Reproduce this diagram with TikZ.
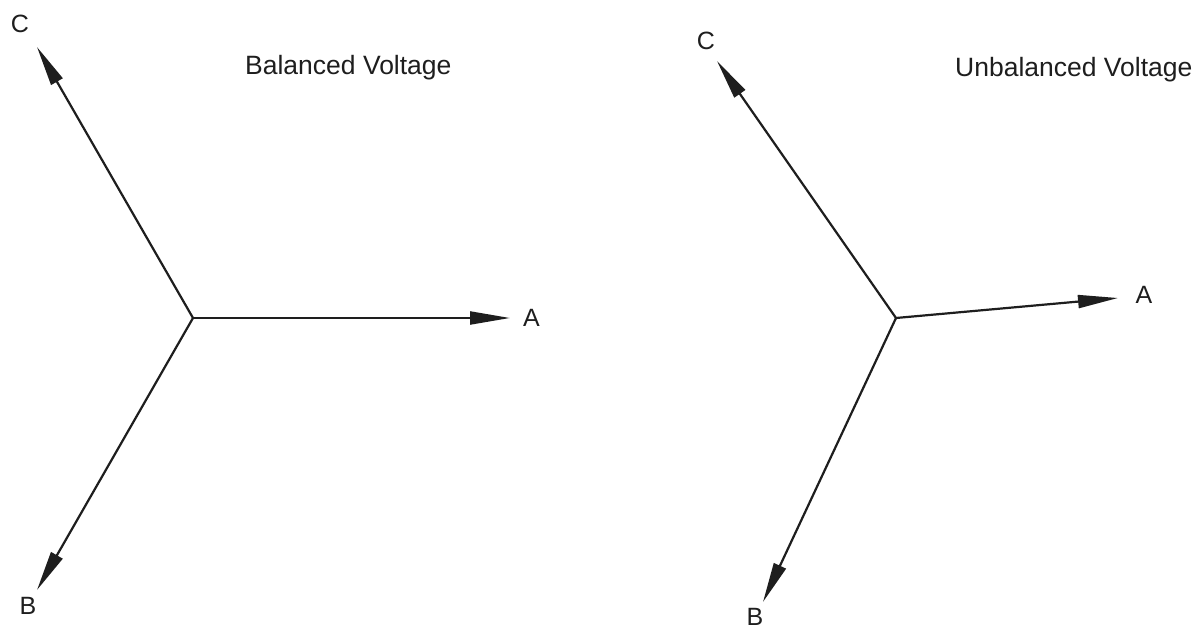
\documentclass[tikz,border=0pt]{standalone}
\usepackage{fontspec}
\setmainfont{Liberation Sans}
\usetikzlibrary{arrows.meta}
\definecolor{ink}{HTML}{1E1E1E}
\tikzset{
  phasor/.style={draw=ink, line width=2.2pt, -{Triangle[length=40pt, width=13pt]}},
  lbl/.style={text=ink, inner sep=0pt, font=\fontsize{25}{30}\selectfont},
  ttl/.style={text=ink, inner sep=0pt, anchor=base west, font=\fontsize{26.5}{32}\selectfont},
}
\begin{document}
\begin{tikzpicture}[x=1pt, y=-1pt]
\useasboundingbox (0,0) rectangle (1203,628);
\fill[white] (0,0) rectangle (1203,628);

% balanced set of phasors
\coordinate (O1) at (193,318);
\coordinate (A1) at (510,318);
\coordinate (B1) at (37,590);
\coordinate (C1) at (37,47);
\node[ttl] (t1) at (245,75) {Balanced Voltage};
\node[lbl] (la1) at (531.5,317.5) {A};
\node[lbl] (lb1) at (28,606) {B};
\node[lbl] (lc1) at (20,24) {C};
\draw[phasor] (O1) -- (A1);
\draw[phasor] (O1) -- (B1);
\draw[phasor] (O1) -- (C1);

% unbalanced set of phasors
\coordinate (O2) at (896,318);
\coordinate (A2) at (1118,298);
\coordinate (B2) at (763,602);
\coordinate (C2) at (717,61);
\node[ttl] (t2) at (955,77) {Unbalanced Voltage};
\node[lbl] (la2) at (1144,295) {A};
\node[lbl] (lb2) at (755,617) {B};
\node[lbl] (lc2) at (706,41) {C};
\draw[phasor] (O2) -- (A2);
\draw[phasor] (O2) -- (B2);
\draw[phasor] (O2) -- (C2);
\end{tikzpicture}
\end{document}
